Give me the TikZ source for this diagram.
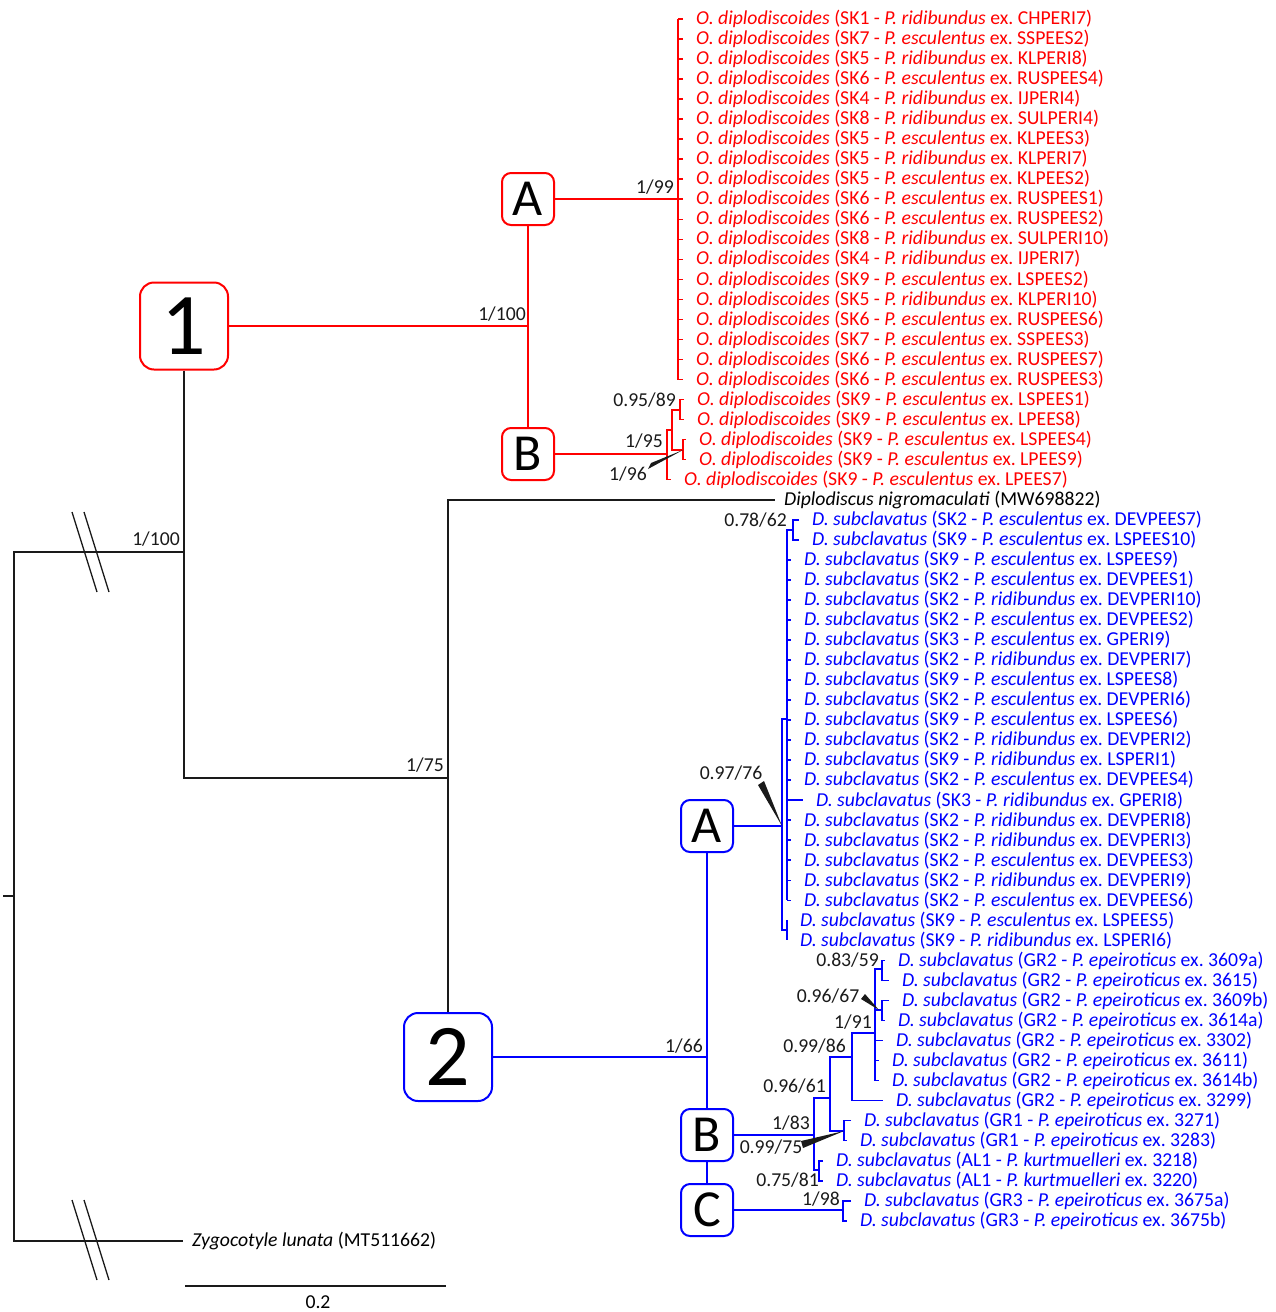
\documentclass[tikz,border=0pt]{standalone}
\usepackage{fontspec}
\setmainfont{Carlito}
\usetikzlibrary{positioning}
\definecolor{ink}{RGB}{26,26,26}
\definecolor{odred}{RGB}{255,0,0}
\definecolor{dsblue}{RGB}{0,0,255}
\newcommand{\treefont}{\fontsize{19.7}{20}\selectfont}
\newcommand{\Od}[3]{\textit{O. diplodiscoides} (#1 - \textit{P. #2} ex. #3)}
\newcommand{\Ds}[3]{\textit{D. subclavatus} (#1 - \textit{P. #2} ex. #3)}
\newcommand{\tp}[1]{([xshift=-13pt]#1.west)}
\frenchspacing

\begin{document}
\begin{tikzpicture}[x=1pt,y=-1pt,
  leaf/.style={anchor=west,inner sep=0pt,font=\treefont,yshift=-1pt},
  supp/.style={anchor=east,inner sep=0pt,font=\treefont,text=ink},
  kline/.style={draw=ink,line width=1.6pt},
  rline/.style={draw=odred,line width=1.6pt},
  bline/.style={draw=dsblue,line width=1.6pt},
  bigbox/.style={draw,rounded corners=14pt,line width=2pt,fill=white,
     minimum width=88pt,minimum height=87pt,inner sep=0pt,font=\fontsize{88}{88}\selectfont},
  smallbox/.style={draw,rounded corners=9pt,line width=2pt,fill=white,
     minimum width=52pt,minimum height=52pt,inner sep=0pt,font=\fontsize{52}{52}\selectfont}]
\useasboundingbox (0,0) rectangle (1275,1312);
% clade boxes
\node[bigbox,draw=odred] (b1) at (184,326) {1};
\node[smallbox,draw=odred] (bA) at (528,199) {A};
\node[smallbox,draw=odred] (bB) at (528,454) {B};
\node[bigbox,draw=dsblue,minimum height=88pt] (b2) at (448,1057) {2};
\node[smallbox,draw=dsblue] (cA) at (707,826) {A};
\node[smallbox,draw=dsblue] (cB) at (707,1135) {B};
\node[smallbox,draw=dsblue] (cC) at (707,1210) {C};
% leaves
\foreach \xt/\sk/\host/\iso [count=\i from 0] in {696/SK1/ridibundus/CHPERI7,
  696/SK7/esculentus/SSPEES2, 696/SK5/ridibundus/KLPERI8, 696/SK6/esculentus/RUSPEES4,
  696/SK4/ridibundus/IJPERI4, 696/SK8/ridibundus/SULPERI4, 696/SK5/esculentus/KLPEES3,
  696/SK5/ridibundus/KLPERI7, 696/SK5/esculentus/KLPEES2, 696/SK6/esculentus/RUSPEES1,
  696/SK6/esculentus/RUSPEES2, 696/SK8/ridibundus/SULPERI10, 696/SK4/ridibundus/IJPERI7,
  696/SK9/esculentus/LSPEES2, 696/SK5/ridibundus/KLPERI10, 696/SK6/esculentus/RUSPEES6,
  696/SK7/esculentus/SSPEES3, 696/SK6/esculentus/RUSPEES7, 696/SK6/esculentus/RUSPEES3,
  697/SK9/esculentus/LSPEES1, 697/SK9/esculentus/LPEES8, 699/SK9/esculentus/LSPEES4,
  699/SK9/esculentus/LPEES9, 684/SK9/esculentus/LPEES7}
  \node[leaf,text=odred] (od\i) at (\xt,{18+20.03*\i}) {\Od{\sk}{\host}{\iso}};
\node[leaf] (dn) at (784,{18+20.03*24}) {\textit{Diplodiscus nigromaculati} (MW698822)};
\foreach \xt/\sk/\host/\iso [count=\i from 25] in {812/SK2/esculentus/DEVPEES7,
  812/SK9/esculentus/LSPEES10, 804/SK9/esculentus/LSPEES9, 804/SK2/esculentus/DEVPEES1,
  804/SK2/ridibundus/DEVPERI10, 804/SK2/esculentus/DEVPEES2, 804/SK3/esculentus/GPERI9,
  804/SK2/ridibundus/DEVPERI7, 804/SK9/esculentus/LSPEES8, 804/SK2/esculentus/DEVPERI6,
  804/SK9/esculentus/LSPEES6, 804/SK2/ridibundus/DEVPERI2, 804/SK9/ridibundus/LSPERI1,
  804/SK2/esculentus/DEVPEES4, 816/SK3/ridibundus/GPERI8, 804/SK2/ridibundus/DEVPERI8,
  804/SK2/ridibundus/DEVPERI3, 804/SK2/esculentus/DEVPEES3, 804/SK2/ridibundus/DEVPERI9,
  804/SK2/esculentus/DEVPEES6, 800/SK9/esculentus/LSPEES5, 800/SK9/ridibundus/LSPERI6,
  898/GR2/epeiroticus/3609a, 902/GR2/epeiroticus/3615, 902/GR2/epeiroticus/3609b,
  898/GR2/epeiroticus/3614a, 896/GR2/epeiroticus/3302, 892/GR2/epeiroticus/3611,
  892/GR2/epeiroticus/3614b, 896/GR2/epeiroticus/3299, 864/GR1/epeiroticus/3271,
  860/GR1/epeiroticus/3283, 836/AL1/kurtmuelleri/3218, 836/AL1/kurtmuelleri/3220,
  864/GR3/epeiroticus/3675a, 860/GR3/epeiroticus/3675b}
  \node[leaf,text=dsblue] (ds\i) at (\xt,{18+20.03*\i}) {\Ds{\sk}{\host}{\iso}};
\node[leaf] (zl) at (192,1240) {\textit{Zygocotyle lunata} (MT511662)};
% internal nodes
\coordinate (n0) at (14,896);
\coordinate (n1) at (184,552);
\coordinate (n2) at (448,778);
\coordinate (nR) at (528,326);
\coordinate (nRA) at (678,199);
\coordinate (nRB) at (667,454);
\coordinate (nRy) at (672,430);
\coordinate (n9589) at (680,410);
\coordinate (n96) at (683,450);
\coordinate (n9776) at (782,826);
\coordinate (npoly) at (787,719);
\coordinate (n7862) at (793,530);
\coordinate (nLS) at (787,930);
\coordinate (n8359) at (882,969);
\coordinate (n9667) at (882,1010);
\coordinate (n91) at (875,1033);
\coordinate (n86) at (852,1057);
\coordinate (n61) at (830,1098);
\coordinate (nGR1) at (844,1131);
\coordinate (nAL1) at (819,1170);
\coordinate (n83) at (814,1135);
\coordinate (nC) at (843,1210);
% backbone
\draw[kline] (n1) -| (n0) |- ([xshift=-9pt]zl.west);
\draw[kline] (n0) -- ++(-11,0);
\draw[kline] (b1) -- (b1 |- n2) -- (n2);
\draw[kline] (b2) -- (b2 |- dn) -- ([xshift=-9pt]dn.west);
\foreach \y in {552,1240} \foreach \dx in {0,12}
  \draw[ink,line width=1.3pt] (72+\dx,\y-40) -- (97+\dx,\y+40);
% clade 1
\draw[rline] (b1) -- (nR);
\draw[rline] (bA) -- (bB);
\draw[rline] (bA) -- (nRA);
\draw[rline] (nRA |- od0) -- (nRA |- od18);
\foreach \i in {0,...,18} \draw[rline] (nRA |- od\i) -- \tp{od\i};
\draw[rline] (bB) -- (nRB);
\draw[rline] (nRy) -| (nRB |- od23) -- \tp{od23};
\draw[rline] (n9589) -| (nRy) |- (n96);
\draw[rline] \tp{od19} -| (n9589) |- \tp{od20};
\draw[rline] \tp{od21} -| (n96) |- \tp{od22};
% clade 2
\draw[bline] (b2) -- (b2 -| cA);
\draw[bline] (cA) -- (cB);
\draw[bline] (cB) -- (cC);
\draw[bline] (cA) -- (n9776);
\draw[bline] (npoly) -| (n9776) |- (nLS);
\draw[bline] (n7862) -| (npoly |- ds44);
\draw[bline] \tp{ds25} -| (n7862) |- \tp{ds26};
\draw[bline] \tp{ds45} -| (nLS) |- \tp{ds46};
\foreach \i in {27,...,44} \draw[bline] (npoly |- ds\i) -- \tp{ds\i};
\draw[bline] (cB) -- (n83);
\draw[bline] (n61) -| (n83) |- (nAL1);
\draw[bline] \tp{ds57} -| (nAL1) |- \tp{ds58};
\draw[bline] (n86) -| (n61) |- (nGR1);
\draw[bline] \tp{ds55} -| (nGR1) |- \tp{ds56};
\draw[bline] (n91) -| (n86) |- \tp{ds54};
\draw[bline] (n8359) -| (n91 |- ds53) -- \tp{ds53};
\draw[bline] (n9667) -- (n9667 -| n91);
\draw[bline] (n91 |- ds51) -- \tp{ds51};
\draw[bline] (n91 |- ds52) -- \tp{ds52};
\draw[bline] \tp{ds47} -| (n8359) |- \tp{ds48};
\draw[bline] \tp{ds49} -| (n9667) |- \tp{ds50};
\draw[bline] (cC) -- (nC);
\draw[bline] \tp{ds59} -| (nC) |- \tp{ds60};
% support values
\node[supp] (s1) at (180,539) {1/100};
\node[supp] (s2) at (526,314) {1/100};
\node[supp] (s3) at (674,187) {1/99};
\node[supp] (s4) at (676,400) {0.95/89};
\node[supp] (s5) at (663,441) {1/95};
\node[supp,anchor=center] (s6) at (628,474) {1/96};
\node[supp] (s7) at (444,765) {1/75};
\node[supp] (s8) at (703,1046) {1/66};
\node[supp] (s9) at (787,520) {0.78/62};
\node[supp,anchor=center] (s10) at (731,773) {0.97/76};
\node[supp] (s11) at (879,960) {0.83/59};
\node[supp,anchor=center] (s12) at (828,996) {0.96/67};
\node[supp] (s13) at (872,1022) {1/91};
\node[supp] (s14) at (846,1046) {0.99/86};
\node[supp] (s15) at (826,1086) {0.96/61};
\node[supp] (s16) at (810,1123) {1/83};
\node[supp,anchor=center] (s17) at (771,1147) {0.99/75};
\node[supp] (s18) at (819,1180) {0.75/81};
\node[supp] (s19) at (840,1199) {1/98};
\fill[ink] (648,469) -- (651,463) -- (n96) -- cycle;
\fill[ink] (758,785) -- (764,781) -- (n9776) -- cycle;
\fill[ink] (861,999) -- (865,994) -- ([xshift=-3pt]n9667) -- cycle;
\fill[ink] (801,1141) -- (803,1148) -- (nGR1) -- cycle;
% scale bar
\coordinate (sbL) at (185,1286);
\coordinate (sbR) at (446,1286);
\draw[kline] (sbL) -- (sbR);
\node[font=\treefont,inner sep=0pt] (sb) at (318,1302) {0.2};
\end{tikzpicture}
\end{document}
